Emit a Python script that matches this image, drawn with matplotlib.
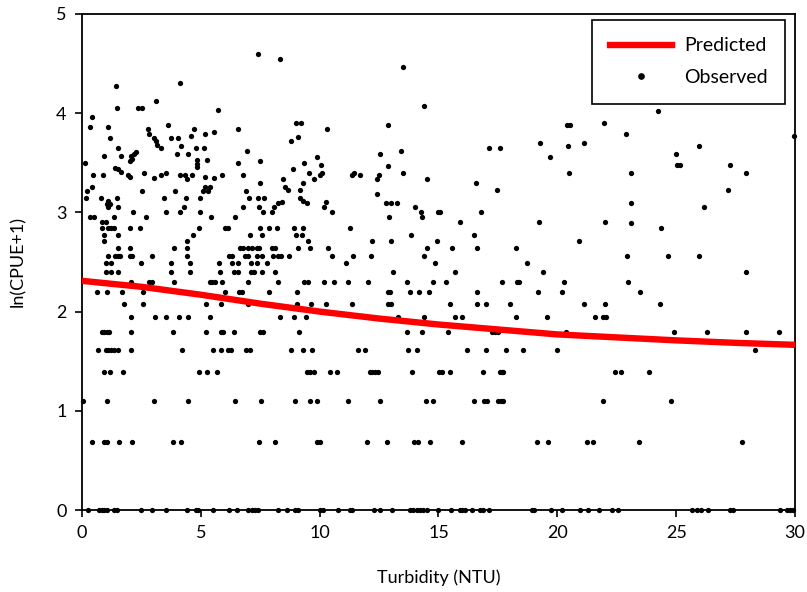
import numpy as np
import matplotlib
matplotlib.use("Agg")
import matplotlib.pyplot as plt
from matplotlib.lines import Line2D

plt.rcParams['font.family'] = ['Lato', 'DejaVu Sans']

# Predicted curve
pred_x = [0, 2.5, 5, 7.5, 10, 12.5, 15, 17.5, 20, 22.5, 25, 27.5, 30]
pred_y = [2.31, 2.25, 2.17, 2.08, 2.00, 1.93, 1.87, 1.82, 1.77, 1.74, 1.71, 1.685, 1.665]

# Observed points on discrete levels: x-values (turbidity) per ln(CPUE+1) level
lvl_000 = [0.27, 0.72, 0.83, 0.94, 1.06, 1.35, 1.46, 2.48, 2.93, 3.52, 4.40, 4.78, 4.89, 5.52, 6.18,
           6.53, 7.00, 7.14, 7.28, 7.39, 8.23, 8.61, 8.96, 9.10, 10.01, 10.15, 10.76, 11.27, 11.37,
           12.30, 12.54, 13.05, 13.80, 13.94, 14.08, 14.22, 14.36, 14.50, 14.98, 15.52, 15.90, 16.0,
           16.11, 16.39, 16.74, 16.86, 17.12, 18.92, 19.03, 19.73, 20.18, 20.95, 21.30, 21.75, 22.28,
           22.54, 25.65, 25.86, 26.04, 26.35, 27.26, 27.40, 29.36, 29.65, 29.78, 29.92]
lvl_069 = [0.41, 0.94, 1.06, 1.57, 2.09, 3.81, 4.15, 7.46, 8.12, 9.87, 10.01, 11.98, 12.82, 13.98,
           14.15, 14.64, 16.0, 19.13, 19.59, 21.23, 21.51, 23.43, 27.78]
lvl_110 = [0.05, 1.04, 3.03, 4.47, 6.44, 7.55, 8.96, 9.59, 9.90, 11.20, 12.56, 14.47, 14.78, 16.49,
           16.92, 17.06, 17.49, 17.61, 17.72, 21.93, 24.78]
lvl_139 = [0.94, 1.18, 1.71, 4.92, 5.27, 5.67, 9.45, 9.59, 9.77, 10.43, 10.74, 12.12, 12.21, 12.33,
           12.44, 13.87, 15.03, 15.16, 15.48, 16.88, 17.59, 17.66, 17.72, 22.42, 22.70, 23.87]
lvl_161 = [0.69, 1.0, 1.11, 1.22, 1.36, 1.53, 2.05, 4.19, 5.50, 5.83, 6.16, 6.26, 6.89, 7.07, 8.79,
           9.31, 9.66, 11.62, 11.91, 13.73, 14.11, 16.18, 16.98, 17.84, 18.54, 20.0, 28.31]
lvl_179 = [0.83, 0.94, 1.04, 1.15, 2.05, 3.82, 5.22, 5.83, 5.94, 6.41, 7.49, 7.63, 9.14, 13.69,
           14.29, 15.38, 17.26, 17.37, 17.49, 20.35, 24.92, 26.28, 27.96, 29.32]
lvl_195 = [2.05, 3.07, 3.52, 4.08, 4.47, 5.38, 8.33, 8.93, 9.41, 13.31, 14.40, 15.69, 16.0, 18.25,
           19.55, 21.58, 21.93, 22.03]
lvl_208 = [1.77, 2.58, 5.22, 5.83, 7.0, 9.06, 9.62, 10.26, 11.37, 12.89, 12.99, 15.48, 16.6, 16.99,
           18.0, 21.13, 22.0, 24.33]
lvl_220 = [0.62, 1.04, 1.70, 2.58, 6.02, 6.6, 6.72, 7.87, 9.03, 12.89, 12.96, 13.80, 14.19, 14.6,
           16.6, 19.2, 20.18, 23.47]
lvl_230 = [2.05, 2.82, 2.93, 3.88, 5.38, 5.48, 5.6, 5.88, 6.97, 8.26, 9.35, 9.49, 10.19, 10.6, 11.2,
           12.02, 13.66, 14.78, 15.3, 17.66, 18.29, 18.38, 20.29, 22.98]
lvl_240 = [1.0, 1.21, 1.53, 3.74, 4.54, 5.81, 6.41, 6.55, 7.11, 7.25, 7.56, 8.12, 13.1, 15.69, 19.38,
           27.92]
lvl_248 = [1.0, 1.22, 2.48, 3.74, 4.54, 5.76, 6.32, 6.55, 7.11, 7.35, 7.77, 11.09, 14.85, 18.71]
lvl_256 = [1.11, 1.39, 1.5, 1.6, 2.02, 2.12, 2.93, 4.4, 6.18, 6.3, 6.86, 7.0, 7.35, 7.56, 8.05, 8.23,
           8.37, 8.71, 10.5, 11.39, 12.16, 14.4, 22.94, 24.67, 25.97]
lvl_264 = [1.53, 2.02, 3.87, 4.4, 6.65, 6.79, 6.97, 7.14, 7.35, 7.45, 7.98, 8.12, 9.1, 9.59, 10.36,
           14.5, 15.58, 16.6, 18.26]

levels = [0.0, 0.69, 1.10, 1.39, 1.61, 1.79, 1.95, 2.08, 2.20, 2.30, 2.40, 2.485, 2.565, 2.64]
level_x = [lvl_000, lvl_069, lvl_110, lvl_139, lvl_161, lvl_179, lvl_195, lvl_208, lvl_220,
           lvl_230, lvl_240, lvl_248, lvl_256, lvl_264]

# Higher observed points (turbidity, ln(CPUE+1))
upper_x = [0.94, 4.4, 12.19, 13.0, 14.92, 20.92, 9.52,
           0.94, 1.53, 4.68, 7.07, 7.59, 8.99, 9.27, 13.84, 16.5,
           0.83, 1.08, 1.22, 1.36, 2.02, 2.44, 4.92, 6.02, 6.13, 7.49, 7.87, 8.19, 8.93, 9.31, 11.27, 24.35,
           0.83, 1.0, 15.9, 19.24, 22.0, 23.08,
           0.34, 0.52, 1.36, 2.68, 5.43, 6.44, 12.92, 14.29,
           2.13, 3.53, 4.12, 4.96, 7.63, 7.98, 10.53, 14.26, 14.96, 15.06, 16.79,
           1.11, 1.53, 4.3, 6.79, 7.45, 8.09, 10.19, 14.01, 26.17,
           1.04, 1.18, 8.26, 8.4, 9.45, 10.26, 12.78, 13.0, 13.24, 23.08,
           1.11, 9.31,
           0.16, 0.8, 1.46, 3.46, 4.36, 4.96, 7.03, 7.39, 7.67, 9.17,
           12.4,
           0.2, 2.51, 3.91, 5.08, 5.29, 6.9, 8.65, 9.17, 17.45, 27.19,
           0.41, 5.17, 5.38, 8.54,
           7.49, 9.31, 16.56,
           4.4, 5.17,
           0.48, 0.9, 1.95, 2.02, 3.04, 3.32, 3.52, 4.12, 4.33, 4.64, 5.57, 5.88, 6.79,
           8.47, 9.56, 10.08, 10.01, 9.77, 11.46, 11.35, 11.7, 12.49, 12.4, 13.52, 14.5, 20.5, 23.1, 27.96,
           1.39, 1.53, 1.64, 2.62, 8.86, 12.89, 25.02, 25.16, 27.26, 10.05,
           0.13, 2.0, 4.82, 4.82, 4.82, 5.24, 6.55, 7.47, 9.35,
           0.94, 1.64, 2.06, 2.12, 3.98, 4.45, 2.26, 2.2, 6.93, 9.87, 12.54, 13.41, 19.69, 24.98,
           1.53, 3.14, 3.32, 4.16, 4.78, 5.15, 17.13, 17.59, 20.46, 25.97,
           1.18, 3.03, 3.12, 3.74, 4.03, 4.59, 8.79, 9.1, 19.27, 21.13, 22.89, 29.97,
           2.76, 2.82, 4.72, 5.17, 5.57, 6.55, 10.29, 0.34, 1.11, 3.63, 12.89, 20.39, 20.53,
           0.43, 8.99, 9.2, 21.97,
           1.46, 2.34, 2.51, 5.71, 14.4, 24.25,
           3.11, 1.42, 4.12, 13.52, 8.33, 7.39]
upper_y = [2.71, 2.71, 2.71, 2.71, 2.71, 2.71, 2.71,
           2.77, 2.77, 2.77, 2.77, 2.77, 2.77, 2.77, 2.77, 2.77,
           2.84, 2.84, 2.84, 2.84, 2.84, 2.84, 2.84, 2.84, 2.84, 2.84, 2.84, 2.84, 2.84, 2.84, 2.84, 2.84,
           2.90, 2.90, 2.90, 2.90, 2.90, 2.89,
           2.95, 2.95, 2.95, 2.95, 2.95, 2.95, 2.95, 2.95,
           3.0, 3.0, 3.0, 3.0, 3.0, 3.0, 3.0, 3.0, 3.0, 3.0, 3.0,
           3.05, 3.05, 3.05, 3.05, 3.05, 3.05, 3.05, 3.05, 3.05,
           3.08, 3.08, 3.09, 3.10, 3.09, 3.10, 3.09, 3.09, 3.09, 3.09,
           3.11, 3.11,
           3.14, 3.14, 3.14, 3.14, 3.14, 3.14, 3.14, 3.14, 3.14, 3.14,
           3.19,
           3.22, 3.22, 3.22, 3.22, 3.22, 3.22, 3.23, 3.23, 3.23, 3.23,
           3.26, 3.26, 3.26, 3.26,
           3.30, 3.30, 3.30,
           3.34, 3.36,
           3.38, 3.38, 3.38, 3.36, 3.35, 3.38, 3.40, 3.38, 3.38, 3.38, 3.35, 3.38, 3.38,
           3.34, 3.40, 3.40, 3.38, 3.34, 3.40, 3.38, 3.38, 3.38, 3.34, 3.40, 3.34, 3.40, 3.40, 3.40,
           3.45, 3.44, 3.41, 3.40, 3.44, 3.47, 3.48, 3.48, 3.48, 3.48,
           3.50, 3.52, 3.53, 3.49, 3.46, 3.53, 3.50, 3.52, 3.50,
           3.57, 3.57, 3.57, 3.54, 3.59, 3.59, 3.61, 3.59, 3.62, 3.56, 3.59, 3.62, 3.56, 3.59,
           3.65, 3.68, 3.65, 3.67, 3.65, 3.65, 3.65, 3.65, 3.67, 3.67,
           3.75, 3.75, 3.72, 3.75, 3.75, 3.77, 3.72, 3.76, 3.70, 3.70, 3.79, 3.77,
           3.84, 3.79, 3.84, 3.79, 3.81, 3.84, 3.84, 3.86, 3.86, 3.88, 3.88, 3.88, 3.88,
           3.96, 3.90, 3.90, 3.90,
           4.05, 4.05, 4.05, 4.03, 4.07, 4.02,
           4.12, 4.27, 4.30, 4.47, 4.55, 4.60]

obs_x = np.concatenate([np.asarray(xs, float) for xs in level_x] + [np.asarray(upper_x, float)])
obs_y = np.concatenate([np.full(len(xs), lv) for xs, lv in zip(level_x, levels)] + [np.asarray(upper_y, float)])

fig = plt.figure(figsize=(8.07, 5.92), dpi=100)
ax = fig.add_axes([0.1016, 0.1385, 0.8835, 0.8379])

ax.plot(obs_x, obs_y, 'o', color='black', markersize=3.8, markeredgewidth=0, zorder=3, clip_on=False)
ax.plot(pred_x, pred_y, color='#ff0000', linewidth=4.6, solid_capstyle='butt', zorder=4)

ax.set_xlim(0, 30)
ax.set_ylim(0, 5)
ax.set_xticks([0, 5, 10, 15, 20, 25, 30])
ax.set_yticks([0, 1, 2, 3, 4, 5])
ax.tick_params(direction='out', length=5, width=1.2, labelsize=13, pad=6, colors='black')
for s in ax.spines.values():
    s.set_linewidth(1.3)
    s.set_color('black')

ax.set_xlabel('Turbidity (NTU)', fontsize=13, labelpad=20)
ax.set_ylabel('ln(CPUE+1)', fontsize=13, labelpad=22)

handles = [Line2D([], [], color='#ff0000', linewidth=4.6),
           Line2D([], [], linestyle='none', marker='o', color='black', markersize=3.8)]
leg = ax.legend(handles, ['Predicted', 'Observed'], loc='upper right',
                bbox_to_anchor=(0.986, 0.988), fontsize=14, frameon=True, fancybox=False,
                framealpha=1, edgecolor='black', handlelength=3.2, borderpad=0.9,
                labelspacing=0.75, handletextpad=0.6, borderaxespad=0)
leg.get_frame().set_linewidth(1.2)

fig.savefig('out.png', dpi=100)
